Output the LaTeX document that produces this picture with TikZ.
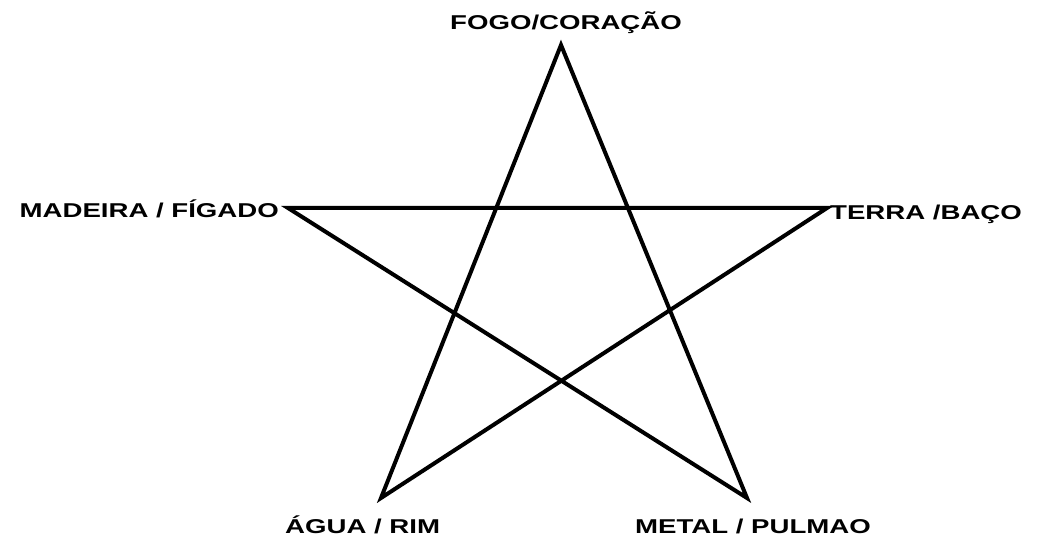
\documentclass[tikz,border=0pt]{standalone}
\usepackage{fontspec}
\usepackage{tikz}
\usetikzlibrary{positioning}
\newfontfamily\lblfont{Liberation Sans}[FakeStretch=1.38]

\begin{document}
\begin{tikzpicture}[x=1pt,y=-1pt,
  every node/.style={font=\lblfont\bfseries\fontsize{20pt}{22pt}\selectfont,inner sep=0pt},
  star/.style={line width=4pt,line join=miter,draw=black}]
\useasboundingbox (0,0) rectangle (1039,540);
\coordinate (fogo) at (561,45);
\coordinate (madeira) at (288,208);
\coordinate (terra) at (827,208);
\coordinate (agua) at (381,498);
\coordinate (metal) at (747,498);
\draw[star] (fogo)--(metal)--(madeira)--(terra)--(agua)--cycle;
\node[anchor=base] (lfogo) at (566,30) {FOGO/CORAÇÃO};
\node[anchor=base east] (lmadeira) at (279,218) {MADEIRA / FÍGADO};
\node[anchor=base west] (lterra) at (830,220) {TERRA /BAÇO};
\node[anchor=base west] (lagua) at (285,533) {ÁGUA / RIM};
\node[anchor=base west] (lmetal) at (635,533) {METAL / PULMAO};
\end{tikzpicture}
\end{document}
